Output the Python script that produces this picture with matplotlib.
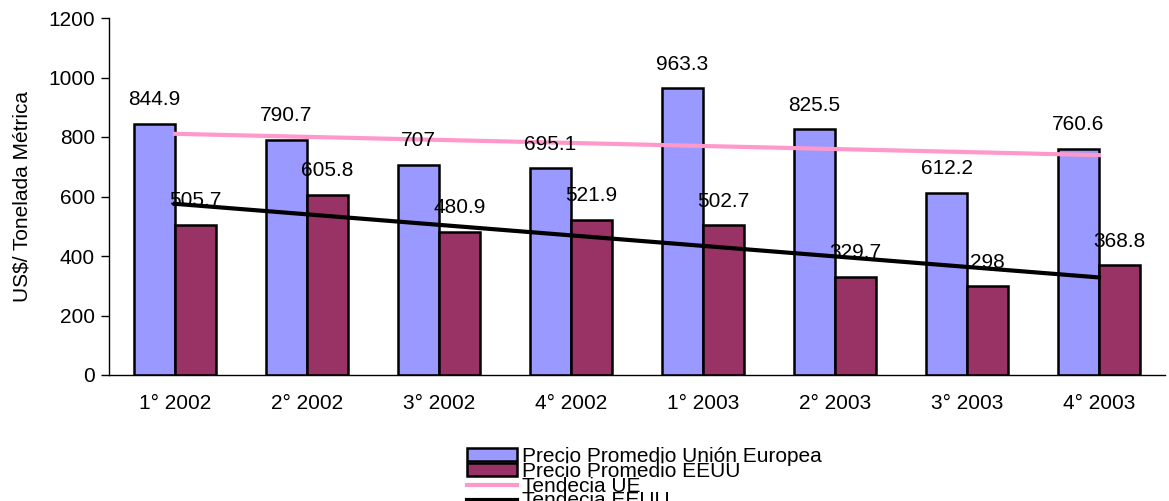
import numpy as np
import matplotlib
matplotlib.use("Agg")
import matplotlib.pyplot as plt

plt.rcParams['font.family'] = ['Liberation Sans', 'DejaVu Sans']

categories = ["1° 2002", "2° 2002", "3° 2002", "4° 2002", "1° 2003", "2° 2003", "3° 2003", "4° 2003"]
precio_ue = [844.9, 790.7, 707, 695.1, 963.3, 825.5, 612.2, 760.6]
precio_eeuu = [505.7, 605.8, 480.9, 521.9, 502.7, 329.7, 298, 368.8]
labels = ["Precio Promedio Unión Europea", "Precio Promedio EEUU", "Tendecia UE", "Tendecia EEUU"]

W, H = 1169, 501
fig = plt.figure(figsize=(W / 100, H / 100), dpi=100)
ax = fig.add_axes([109 / W, (H - 375) / H, (1165 - 109) / W, (375 - 18) / H])

FS = 15
x = np.arange(len(categories))
bw = 0.31
b1 = ax.bar(x - bw / 2, precio_ue, width=bw, color="#9999FF", edgecolor="black", linewidth=1.8, label=labels[0], zorder=2)
b2 = ax.bar(x + bw / 2, precio_eeuu, width=bw, color="#993366", edgecolor="black", linewidth=1.8, label=labels[1], zorder=2)

# linear trendlines (Excel-style)
p_ue = np.polyfit(x, precio_ue, 1)
p_us = np.polyfit(x, precio_eeuu, 1)
l1, = ax.plot(x, np.polyval(p_ue, x), color="#FF99CC", linewidth=3, label=labels[2], zorder=3)
l2, = ax.plot(x, np.polyval(p_us, x), color="black", linewidth=3, label=labels[3], zorder=3)

for xi, v in zip(x, precio_ue):
    ax.annotate(f"{v:g}", (xi - bw / 2, v), xytext=(0, 24), textcoords="offset pixels",
                ha="center", va="center", fontsize=FS, zorder=4)
for xi, v in zip(x, precio_eeuu):
    ax.annotate(f"{v:g}", (xi + bw / 2, v), xytext=(0, 24), textcoords="offset pixels",
                ha="center", va="center", fontsize=FS, zorder=4)

ax.set_xlim(-0.5, len(categories) - 0.5)
ax.set_ylim(0, 1200)
ax.set_yticks(np.arange(0, 1201, 200))
ax.set_xticks(x)
ax.set_xticklabels(categories, fontsize=FS)
ax.tick_params(axis="y", labelsize=FS, length=6, width=1, direction="out", pad=4)
ax.tick_params(axis="x", length=0, pad=14)
for s in ["top", "right"]:
    ax.spines[s].set_visible(False)
ax.spines["left"].set_linewidth(1)
ax.spines["bottom"].set_linewidth(1)
ax.set_ylabel("US$/ Tonelada Métrica", fontsize=FS, labelpad=12)

leg = fig.legend(handles=[b1, b2, l1, l2], labels=labels, loc="upper left",
                 bbox_to_anchor=(467 / W, 1 - 447 / H), frameon=False, fontsize=FS,
                 labelspacing=-0.2, handlelength=2.4, handleheight=0.6,
                 handletextpad=0.25, borderpad=0, borderaxespad=0)

fig.savefig("out.png", dpi=100)
